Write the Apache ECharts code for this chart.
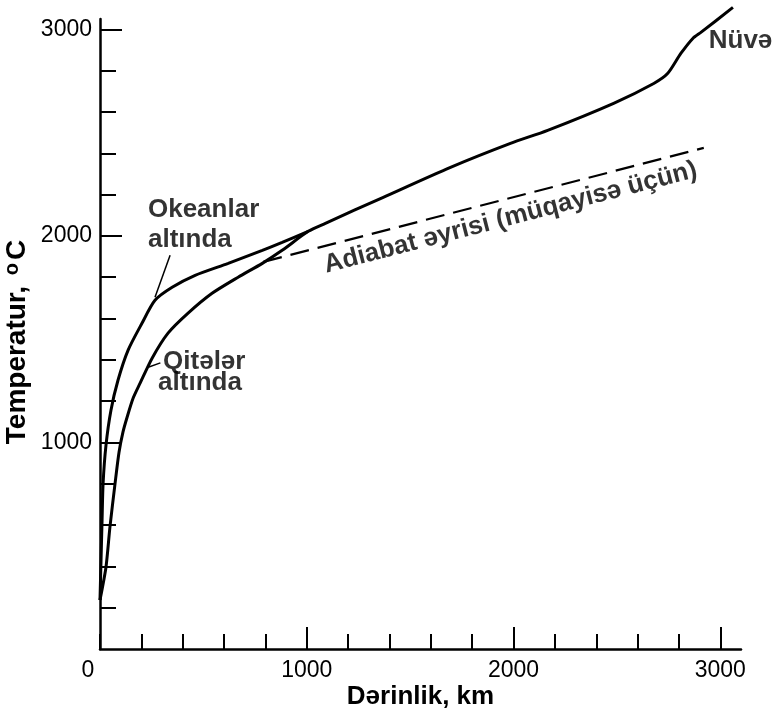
<!DOCTYPE html>
<html>
<head>
<meta charset="utf-8">
<script src="https://cdn.jsdelivr.net/npm/echarts@6/dist/echarts.min.js"></script>
<style>
html,body{margin:0;padding:0;background:#fff;}
#chart{width:772px;height:709px;}
</style>
</head>
<body>
<div id="chart"></div>
<script>
// Under oceans (depth km, temperature °C) — ends where it joins the continental curve
var oceanDepth = [0, 5, 10, 15, 29, 53, 87, 136, 203, 266, 349, 460, 620, 785, 881, 1007];
var oceanTemp  = [237, 431, 624, 803, 987, 1156, 1301, 1447, 1577, 1688, 1751, 1809, 1867, 1930, 1969, 2022];

// Under continents, continuing as the single curve to the core
var contDepth = [0, 29, 48, 73, 92, 111, 131, 160, 194, 252, 329, 426, 542, 668, 785, 881, 1007,
                 1090, 1370, 1695, 1985, 2165, 2484, 2678, 2746, 2809, 2867, 2906, 3061];
var contTemp  = [237, 397, 590, 803, 953, 1050, 1122, 1214, 1287, 1408, 1529, 1626, 1722, 1800, 1867, 1930, 2022,
                 2061, 2187, 2332, 2448, 2511, 2642, 2738, 2787, 2883, 2956, 2985, 3106];

// Adiabat (for comparison)
var adiabatDepth = [790, 2920];
var adiabatTemp  = [1874, 2426];

// Axis ticks
var xMinorTicks = [0, 200, 400, 600, 800, 1000, 1200, 1400, 1600, 1800, 2000, 2200, 2400, 2600, 2800, 3000];
var xMajorTicks = [1000, 2000, 3000];
var xLabels = [0, 1000, 2000, 3000];
var yMinorTicks = [200, 400, 600, 800, 1000, 1200, 1400, 1600, 1800, 2000, 2200, 2400, 2600, 2800, 3000];
var yMajorTicks = [1000, 2000, 3000];
var yLabels = [1000, 2000, 3000];

// Leader lines
var oceanLeaderDepth = [339, 266];
var oceanLeaderTemp  = [1906, 1703];
var contLeaderDepth  = [233, 292];
var contLeaderTemp   = [1364, 1385];

// Annotation texts and anchors (data coordinates)
var noteText  = ['Okeanlar', 'altında', 'Qitələr', 'altında', 'Nüvə'];
var noteDepth = [232, 232, 305, 281, 2944];
var noteTemp  = [2128, 1979, 1388, 1287, 2946];
var adiabatLabel = 'Adiabat əyrisi (müqayisə üçün)';
var adiabatLabelAt = [1985, 2088];

function zip(a, b) { return a.map(function (v, i) { return [v, b[i]]; }); }

var FONT = '"Liberation Sans", Arial, Helvetica, sans-serif';
var INK = '#000';

var chart = echarts.init(document.getElementById('chart'), null, {renderer: 'canvas'});

var noteData = noteText.map(function (t, i) {
  return {value: [noteDepth[i], noteTemp[i]], name: t};
});

var X_MIN = 0, X_MAX = 3100, Y_MIN = 0, Y_MAX = 3050;

var option = {
  backgroundColor: '#fff',
  animation: false,
  grid: {left: 100, right: 31, top: 19, bottom: 60, containLabel: false, outerBoundsMode: 'none'},
  xAxis: [{
    type: 'value', min: X_MIN, max: X_MAX, interval: 200,
    name: 'Dərinlik, km', nameLocation: 'middle', nameGap: 35, nameMoveOverlap: false,
    nameTextStyle: {fontFamily: FONT, fontSize: 26, fontWeight: 'bold', color: INK},
    axisLine: {show: true, lineStyle: {color: INK, width: 2.5}},
    axisTick: {show: true, inside: true, length: 15, customValues: xMinorTicks, lineStyle: {color: INK, width: 2}},
    splitLine: {show: false},
    axisLabel: {
      fontFamily: FONT, fontSize: 23, color: INK, margin: 10,
      customValues: xLabels,
      formatter: function (v) { return v === 0 ? '{z|0}' : String(v); },
      rich: {z: {fontFamily: FONT, fontSize: 23, color: INK, padding: [0, 24, 0, 0]}}
    }
  }, {
    type: 'value', min: X_MIN, max: X_MAX, interval: 200, position: 'bottom',
    axisLine: {show: false},
    axisTick: {show: true, inside: true, length: 22, customValues: xMajorTicks, lineStyle: {color: INK, width: 2}},
    axisLabel: {show: false},
    splitLine: {show: false}
  }],
  yAxis: [{
    type: 'value', min: Y_MIN, max: Y_MAX, interval: 200,
    name: 'Temperatur, {sup|o}C', nameLocation: 'middle', nameGap: 68, nameMoveOverlap: false,
    nameTextStyle: {
      fontFamily: FONT, fontSize: 28, fontWeight: 'bold', color: INK, lineHeight: 30,
      padding: [0, 16, 0, 0],
      rich: {sup: {fontFamily: FONT, fontSize: 20, fontWeight: 'bold', color: INK, verticalAlign: 'top', lineHeight: 30, padding: [0, 3, 10, 3]}}
    },
    axisLine: {show: true, lineStyle: {color: INK, width: 2.5}},
    axisTick: {show: true, inside: true, length: 16, customValues: yMinorTicks, lineStyle: {color: INK, width: 2}},
    splitLine: {show: false},
    axisLabel: {
      fontFamily: FONT, fontSize: 23, color: INK, margin: 8,
      customValues: yLabels,
      formatter: function (v) { return String(v); }
    }
  }, {
    type: 'value', min: Y_MIN, max: Y_MAX, interval: 200, position: 'left',
    axisLine: {show: false},
    axisTick: {show: true, inside: true, length: 22, customValues: yMajorTicks, lineStyle: {color: INK, width: 2}},
    axisLabel: {show: false},
    splitLine: {show: false}
  }],
  series: [
    {
      type: 'line', name: 'ocean', data: zip(oceanDepth, oceanTemp),
      showSymbol: false, smooth: 0.25, clip: false,
      lineStyle: {color: INK, width: 3}
    },
    {
      type: 'line', name: 'continent', data: zip(contDepth, contTemp),
      showSymbol: false, smooth: 0.25, clip: false,
      lineStyle: {color: INK, width: 3}
    },
    {
      type: 'line', name: 'adiabat', data: zip(adiabatDepth, adiabatTemp),
      showSymbol: false, clip: false,
      lineStyle: {color: INK, width: 2.2, type: [19, 9]}
    },
    {
      type: 'line', name: 'oceanLeader', data: zip(oceanLeaderDepth, oceanLeaderTemp),
      showSymbol: false, clip: false, lineStyle: {color: INK, width: 1.5}
    },
    {
      type: 'line', name: 'contLeader', data: zip(contLeaderDepth, contLeaderTemp),
      showSymbol: false, clip: false, lineStyle: {color: INK, width: 1.5}
    },
    {
      type: 'scatter', name: 'notes', data: noteData, symbolSize: 0, clip: false,
      label: {
        show: true, position: [0, 0], align: 'left', verticalAlign: 'middle',
        formatter: function (p) { return p.name; },
        fontFamily: FONT, fontSize: 26, fontWeight: 'bold', color: INK
      }
    },
    {
      type: 'scatter', name: 'adiabatNote',
      data: [{value: adiabatLabelAt, name: adiabatLabel}], symbolSize: 0, clip: false,
      label: {
        show: true, position: [0, 0], align: 'center', verticalAlign: 'middle', rotate: 14.5,
        formatter: function (p) { return p.name; },
        fontFamily: FONT, fontSize: 26, fontWeight: 'bold', color: INK
      }
    }
  ]
};
chart.setOption(option);
</script>
</body>
</html>
